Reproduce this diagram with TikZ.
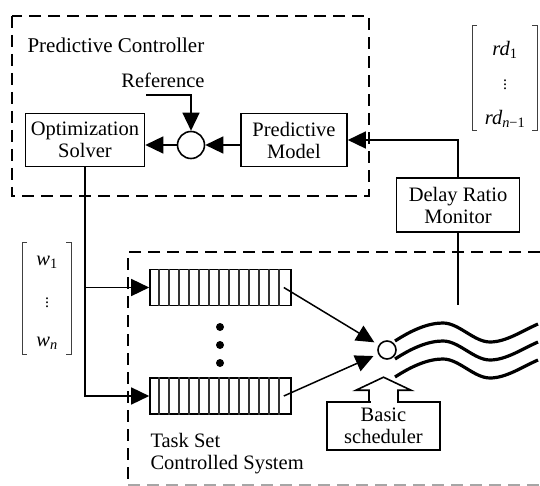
\documentclass[tikz,border=0pt]{standalone}
\usepackage{fontspec}
\setmainfont{Liberation Serif}
\usetikzlibrary{positioning, arrows.meta, shapes.geometric}
\tikzset{>={Triangle[length=18pt,width=17pt]}}
\tikzset{
    block/.style = {rectangle, draw, line width=1.6pt, align=center, inner sep=2pt},
    sumpoint/.style = {circle, draw, line width=1.6pt, inner sep=0pt},
    queue/.style = {rectangle, draw, line width=1.6pt, minimum width=141pt, minimum height=36pt},
    stripe/.style = {black!80, line width=1.5pt},
    link/.style = {line width=1.5pt},
    dashbox/.style = {line width=2.4pt, dash pattern=on 12pt off 7pt},
    wave/.style = {line width=3.2pt},
    bracket/.style = {black!75, line width=0.9pt},
    dotsnode/.style = {inner sep=0pt, font=\fontsize{16}{18}\selectfont}
}

\begin{document}
\begin{tikzpicture}[x=1pt, y=-1pt, font=\fontsize{20.5}{22}\selectfont]
		\useasboundingbox (0,0) rectangle (540,486);
		% predictive controller
		\draw[dashbox] (12,16) rectangle (369,196);
		\node (ctrltitle) [anchor=west, font=\fontsize{21}{22}\selectfont] at (24,45) {Predictive Controller};
		\node (opt) [block, minimum width=119pt, minimum height=53pt] at (85,140) {Optimization\\Solver};
		\node (model) [block, minimum width=106pt, minimum height=53pt] at (294,140) {Predictive\\Model};
		\node (sumc) [sumpoint, minimum size=27pt] at (191,145) {};
		\node (ref) at (163,80) {Reference};
		\coordinate (refin) at (146,95);
		\draw [link,->] (refin) -| (sumc.north);
		\draw [link,->] (model.west |- sumc) -- (sumc.east);
		\draw [link,->] (sumc.west) -- (sumc -| opt.east);
		% delay ratio feedback
		\node (monitor) [block, minimum width=123pt, minimum height=54pt] at (458,205) {Delay Ratio\\Monitor};
		\coordinate (monin) at (458,305);
		\draw [link,->] (monitor.north) |- (model.east);
		\draw [link] (monitor.south) -- (monin);
		\node (rd1) at (505,50) {\itshape rd\textsubscript{\upshape 1}};
		\node (rddots) [dotsnode] at (505,82) {\vdots};
		\node (rdn) at (505,119) {\itshape rd\textsubscript{n\upshape −1}};
		\draw [bracket] (477,25) -| (472,130) -- (477,130);
		\draw [bracket] (532,25) -| (537,130) -- (532,130);
		% weights
		\node (w1) at (47,262) {\itshape w\textsubscript{\upshape 1}};
		\node (wdots) [dotsnode] at (47,300) {\vdots};
		\node (wn) at (47,343) {\itshape w\textsubscript{n}};
		\draw [bracket] (27,242) -| (22,354) -- (27,354);
		\draw [bracket] (66,242) -| (71,354) -- (66,354);
		% controlled system
		\draw[dashbox] (540,252) -| (128,486);
		\draw[dashbox, black!35, line width=1.2pt] (128,485) -- (540,485);
		\node (q1) [queue] at (220.5,287.5) {};
		\node (q2) [queue] at (220.5,396) {};
		\foreach \q in {q1,q2}
			\foreach \k in {1,...,13}
				\draw [stripe] ([xshift=\k*10pt]\q.north west) -- ([xshift=\k*10pt]\q.south west);
		\foreach \y in {327,345,363}
			\fill (220,\y) circle (4pt);
		\draw [link,->] (opt.south) |- (q1.west);
		\draw [link,->] (opt.south) |- (q2.west);
		\node (sch) [sumpoint, minimum size=18pt] at (387,350) {};
		\draw [link,->,shorten >=5pt] ([xshift=-8pt]q1.east) -- (sch);
		\draw [link,->,shorten >=5pt] ([xshift=-8pt]q2.east) -- (sch);
		\foreach \dy in {0,18,36}
			\draw [wave, yshift=-\dy pt] (395,341) .. controls (412,330) and (428,323) .. (443,323)
				.. controls (459,323) and (474,342) .. (490,342) .. controls (506,342) and (522,331) .. (538,324);
		\node (bs) [block, minimum width=113pt, minimum height=48pt] at (383.5,426) {Basic\\scheduler};
		\fill [white] ([xshift=-13pt,yshift=-1.5pt]bs.north) rectangle ([xshift=13pt,yshift=1.5pt]bs.north);
		\draw [line width=1.6pt] ([xshift=-14.5pt]bs.north) -- ++(0,-11) -- ++(-13,0) -- ++(27.5,-13)
			-- ++(27.5,13) -- ++(-13,0) -- ++(0,11);
		\node (taskset) [anchor=west] at (147,440) {Task Set};
		\node (ctrlsys) [anchor=west] at (147,465) {Controlled System};
	\end{tikzpicture}
\end{document}
